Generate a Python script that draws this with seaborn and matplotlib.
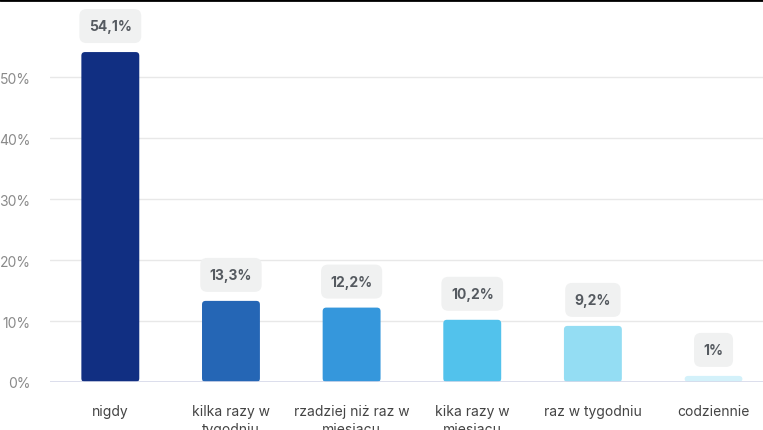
import matplotlib
matplotlib.use("Agg")
import matplotlib.pyplot as plt
import matplotlib.transforms as mtransforms
from matplotlib.patches import FancyBboxPatch
from matplotlib.lines import Line2D
from matplotlib.ticker import FuncFormatter
import seaborn as sns
import pandas as pd

categories = ["nigdy", "kilka razy w\ntygodniu", "rzadziej niż raz w\nmiesiącu",
              "kika razy w\nmiesiącu", "raz w tygodniu", "codziennie"]
values = [54.1, 13.3, 12.2, 10.2, 9.2, 1.0]
colors = ["#112f82", "#2566b5", "#3597dc", "#52c2ec", "#94ddf3", "#d3f1fa"]
y_ticks = [0, 10, 20, 30, 40, 50]

sns.set_theme(style="white")
plt.rcParams["font.family"] = ["Inter", "DejaVu Sans"]

df = pd.DataFrame({"kategoria": categories, "procent": values})

fig = plt.figure(figsize=(7.63, 4.31), dpi=100)
ax = fig.add_axes([50 / 763, 48 / 431, 713 / 763, 383 / 431])

sns.barplot(data=df, x="kategoria", y="procent", hue="kategoria",
            palette=colors, width=0.48, legend=False, ax=ax, saturation=1)

ax.set_xlim(-0.5, 5.41)
ax.set_ylim(0, 62.8)

# replace plain rectangles with softly rounded bars
for patch in list(ax.patches):
    x0, y0 = patch.get_x(), patch.get_y()
    w, h = patch.get_width(), patch.get_height()
    rounded = FancyBboxPatch((x0, y0), w, h,
                             boxstyle="round,pad=0,rounding_size=0.03",
                             mutation_aspect=19.8,
                             facecolor=patch.get_facecolor(), edgecolor="none",
                             zorder=2)
    patch.set_visible(False)
    ax.add_patch(rounded)

# value badges: a rounded grey box floating just above each bar
pad_x, box_h, box_gap, box_r = 0.095, 0.34, 0.09, 0.07  # inches
labels = []
for i, v in enumerate(values):
    label = f"{v:g}".replace(".", ",") + "%"
    anchor = fig.dpi_scale_trans + mtransforms.ScaledTranslation(i, v, ax.transData)
    t = ax.text(0, box_gap + box_h / 2, label, transform=anchor,
                ha="center", va="center", fontsize=10, fontweight="bold",
                color="#555a60", zorder=5, clip_on=False)
    labels.append((t, anchor))

fig.canvas.draw()
renderer = fig.canvas.get_renderer()
for t, anchor in labels:
    tw = t.get_window_extent(renderer).width / fig.dpi
    bw = tw + 2 * pad_x
    badge = FancyBboxPatch((-bw / 2, box_gap), bw, box_h,
                           boxstyle=f"round,pad=0,rounding_size={box_r}",
                           facecolor="#f0f1f1", edgecolor="none",
                           transform=anchor, clip_on=False, zorder=4)
    ax.add_artist(badge)

ax.set_yticks(y_ticks)
ax.yaxis.set_major_formatter(FuncFormatter(lambda y, _: f"{y:.0f}%"))
ax.grid(axis="y", color="#e8e8e8", linewidth=1)
ax.set_axisbelow(True)
ax.axhline(0, color="#d6d9ea", linewidth=1.2, zorder=3)

for s in ax.spines.values():
    s.set_visible(False)

ax.tick_params(axis="y", length=0, pad=14, labelsize=10, labelcolor="#8a8a8a")
ax.tick_params(axis="x", length=0, pad=16, labelsize=10, labelcolor="#444444")
for t in ax.get_xticklabels():
    t.set_linespacing(1.35)
ax.set_xlabel("")
ax.set_ylabel("")

fig.add_artist(Line2D([0, 1], [1 - 1 / 431, 1 - 1 / 431], color="black",
                      linewidth=2, transform=fig.transFigure))

fig.savefig("out.png", dpi=100)
